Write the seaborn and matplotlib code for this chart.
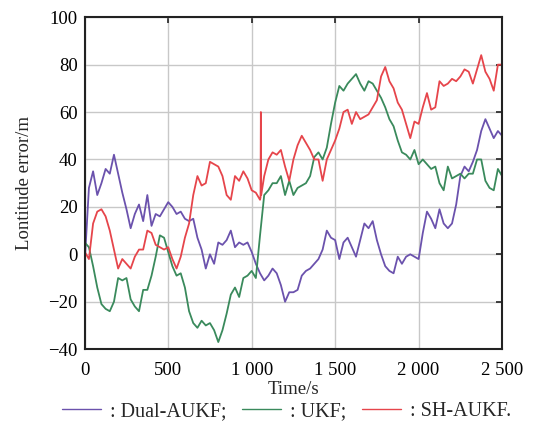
import numpy as np
import pandas as pd
import seaborn as sns
import matplotlib.pyplot as plt
from matplotlib.ticker import FuncFormatter, MultipleLocator

# time axis (s), sampled every 25 s
time_s = np.arange(0, 2501, 25)

dual_aukf = [
    -3, 28, 35, 25, 30, 36, 34, 42, 34, 26, 19, 11, 17, 21, 14, 25, 12, 17, 16, 19,
    22, 20, 17, 18, 15, 14, 15, 7, 2, -6, 0, -4, 5, 4, 6, 10, 3, 5, 4, 5,
    1, -4, -8, -11, -9, -6, -8, -13, -20, -16, -16, -15, -9, -7, -6, -4, -2, 2, 10, 7,
    6, -2, 5, 7, 3, -1, 6, 13, 11, 14, 6, 0, -5, -7, -8, -1, -4, -1, 0, -1,
    -2, 9, 18, 15, 11, 19, 13, 11, 13, 21, 33, 37, 35, 39, 44, 52, 57, 53, 49, 52,
    50,
]

ukf = [
    5, 3, -5, -14, -21, -23, -24, -20, -10, -11, -10, -19, -22, -24, -15, -15, -9, -1, 8, 7,
    1, -5, -9, -8, -14, -24, -29, -31, -28, -30, -29, -32, -37, -32, -25, -17, -14, -18, -10, -9,
    -7, -10, 8, 25, 27, 30, 30, 33, 25, 31, 25, 28, 29, 30, 33, 41, 43, 40, 45, 55,
    64, 71, 69, 72, 74, 76, 72, 69, 73, 72, 69, 66, 62, 57, 54, 48, 43, 42, 40, 44,
    38, 40, 38, 36, 37, 30, 27, 37, 32, 33, 34, 32, 34, 34, 40, 40, 31, 28, 27, 36,
    33,
]

sh_aukf = [
    1, -2, 13, 18, 19, 16, 10, 2, -6, -2, -4, -6, -1, 2, 2, 10, 9, 4, 3, 2,
    3, -2, -6, -1, 7, 13, 25, 33, 29, 30, 39, 38, 37, 33, 25, 23, 33, 31, 35, 32,
    27, 26, 23, 33, 40, 43, 42, 44, 37, 31, 40, 46, 50, 47, 44, 40, 40, 31, 40, 44,
    48, 53, 60, 61, 55, 60, 57, 58, 59, 62, 65, 75, 79, 73, 70, 64, 61, 55, 49, 56,
    55, 62, 68, 61, 62, 73, 71, 72, 74, 73, 75, 78, 77, 72, 78, 84, 77, 74, 69, 80,
    80,
]

# short spike of SH-AUKF near 1055 s
spike_t = [1053, 1055, 1057]
spike_v = [24, 60, 25]

names = ["Dual-AUKF", "UKF", "SH-AUKF"]
colors = ["#6b52ad", "#3a8a5c", "#e6454b"]

frames = [
    pd.DataFrame({"t": time_s, "v": dual_aukf, "method": names[0]}),
    pd.DataFrame({"t": time_s, "v": ukf, "method": names[1]}),
    pd.DataFrame({"t": np.concatenate([time_s, spike_t]),
                  "v": sh_aukf + spike_v, "method": names[2]}).sort_values("t"),
]
df = pd.concat(frames, ignore_index=True)

sns.set_style("whitegrid")
plt.rcParams["font.family"] = ["Liberation Serif", "DejaVu Serif"]

fig = plt.figure(figsize=(5.33, 4.30), dpi=100)
ax = fig.add_axes([0.159, 0.188, 0.783, 0.772])

sns.lineplot(data=df, x="t", y="v", hue="method", palette=colors,
             hue_order=names, estimator=None, sort=False, linewidth=1.3,
             ax=ax, legend=False)

ax.set_xlim(0, 2500)
ax.set_ylim(-40, 100)
ax.xaxis.set_major_locator(MultipleLocator(500))
ax.yaxis.set_major_locator(MultipleLocator(20))
ax.xaxis.set_major_formatter(FuncFormatter(lambda v, p: f"{int(v):,}".replace(",", " ")))
ax.yaxis.set_major_formatter(FuncFormatter(lambda v, p: f"{int(v)}".replace("-", "\u2212")))

ax.grid(True, color="#c8c8c8", linewidth=1.0)
for s in ax.spines.values():
    s.set_color("#222222")
    s.set_linewidth(1.5)
ax.tick_params(direction="in", length=4, width=1.2, colors="#222222",
               labelsize=13.5, top=True, right=True, labelcolor="black")
ax.tick_params(axis="x", pad=9)
ax.tick_params(axis="y", pad=5)

ax.set_xlabel("Time/s", fontsize=13.5, labelpad=2)
ax.set_ylabel("Lontitude error/m", fontsize=13.5, labelpad=11)

handles = [plt.Line2D([], [], color=c, linewidth=1.0) for c in colors]
fig.legend(handles, [": Dual-AUKF;", ": UKF;", ": SH-AUKF."], loc="center",
           bbox_to_anchor=(0.538, 0.043), ncol=3, frameon=False, fontsize=14.5,
           handlelength=1.95, handletextpad=0.45, columnspacing=0.75)

fig.savefig("out.png", dpi=100)
